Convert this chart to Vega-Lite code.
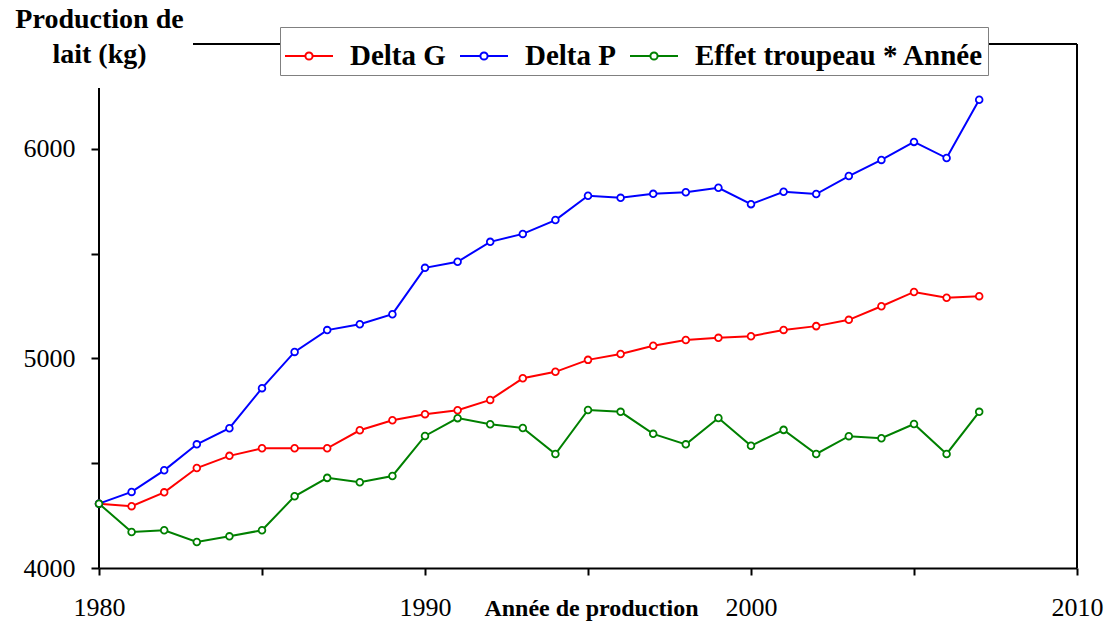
{
  "$schema": "https://vega.github.io/schema/vega-lite/v6.json",
  "width": 978,
  "height": 524,
  "autosize": {"type": "none"},
  "padding": {"left": 99, "top": 44, "right": 32, "bottom": 55},
  "background": "white",
  "config": {
    "font": "Liberation Serif",
    "view": {"stroke": null},
    "axis": {"grid": false, "labelColor": "black", "titleColor": "black", "tickColor": "black", "domainColor": "black"}
  },
  "data": {
    "values": [
      {"Annee": 1980, "Serie": "Delta G", "Valeur": 4307},
      {"Annee": 1981, "Serie": "Delta G", "Valeur": 4295},
      {"Annee": 1982, "Serie": "Delta G", "Valeur": 4361},
      {"Annee": 1983, "Serie": "Delta G", "Valeur": 4477},
      {"Annee": 1984, "Serie": "Delta G", "Valeur": 4535},
      {"Annee": 1985, "Serie": "Delta G", "Valeur": 4571},
      {"Annee": 1986, "Serie": "Delta G", "Valeur": 4571},
      {"Annee": 1987, "Serie": "Delta G", "Valeur": 4571},
      {"Annee": 1988, "Serie": "Delta G", "Valeur": 4657},
      {"Annee": 1989, "Serie": "Delta G", "Valeur": 4705},
      {"Annee": 1990, "Serie": "Delta G", "Valeur": 4734},
      {"Annee": 1991, "Serie": "Delta G", "Valeur": 4753},
      {"Annee": 1992, "Serie": "Delta G", "Valeur": 4802},
      {"Annee": 1993, "Serie": "Delta G", "Valeur": 4905},
      {"Annee": 1994, "Serie": "Delta G", "Valeur": 4936},
      {"Annee": 1995, "Serie": "Delta G", "Valeur": 4993},
      {"Annee": 1996, "Serie": "Delta G", "Valeur": 5021},
      {"Annee": 1997, "Serie": "Delta G", "Valeur": 5060},
      {"Annee": 1998, "Serie": "Delta G", "Valeur": 5088},
      {"Annee": 1999, "Serie": "Delta G", "Valeur": 5098},
      {"Annee": 2000, "Serie": "Delta G", "Valeur": 5106},
      {"Annee": 2001, "Serie": "Delta G", "Valeur": 5136},
      {"Annee": 2002, "Serie": "Delta G", "Valeur": 5154},
      {"Annee": 2003, "Serie": "Delta G", "Valeur": 5184},
      {"Annee": 2004, "Serie": "Delta G", "Valeur": 5249},
      {"Annee": 2005, "Serie": "Delta G", "Valeur": 5317},
      {"Annee": 2006, "Serie": "Delta G", "Valeur": 5289},
      {"Annee": 2007, "Serie": "Delta G", "Valeur": 5297},
      {"Annee": 1980, "Serie": "Delta P", "Valeur": 4307},
      {"Annee": 1981, "Serie": "Delta P", "Valeur": 4363},
      {"Annee": 1982, "Serie": "Delta P", "Valeur": 4466},
      {"Annee": 1983, "Serie": "Delta P", "Valeur": 4590},
      {"Annee": 1984, "Serie": "Delta P", "Valeur": 4667},
      {"Annee": 1985, "Serie": "Delta P", "Valeur": 4858},
      {"Annee": 1986, "Serie": "Delta P", "Valeur": 5031},
      {"Annee": 1987, "Serie": "Delta P", "Valeur": 5135},
      {"Annee": 1988, "Serie": "Delta P", "Valeur": 5163},
      {"Annee": 1989, "Serie": "Delta P", "Valeur": 5211},
      {"Annee": 1990, "Serie": "Delta P", "Valeur": 5432},
      {"Annee": 1991, "Serie": "Delta P", "Valeur": 5461},
      {"Annee": 1992, "Serie": "Delta P", "Valeur": 5556},
      {"Annee": 1993, "Serie": "Delta P", "Valeur": 5594},
      {"Annee": 1994, "Serie": "Delta P", "Valeur": 5660},
      {"Annee": 1995, "Serie": "Delta P", "Valeur": 5776},
      {"Annee": 1996, "Serie": "Delta P", "Valeur": 5766},
      {"Annee": 1997, "Serie": "Delta P", "Valeur": 5785},
      {"Annee": 1998, "Serie": "Delta P", "Valeur": 5793},
      {"Annee": 1999, "Serie": "Delta P", "Valeur": 5814},
      {"Annee": 2000, "Serie": "Delta P", "Valeur": 5736},
      {"Annee": 2001, "Serie": "Delta P", "Valeur": 5795},
      {"Annee": 2002, "Serie": "Delta P", "Valeur": 5784},
      {"Annee": 2003, "Serie": "Delta P", "Valeur": 5870},
      {"Annee": 2004, "Serie": "Delta P", "Valeur": 5947},
      {"Annee": 2005, "Serie": "Delta P", "Valeur": 6033},
      {"Annee": 2006, "Serie": "Delta P", "Valeur": 5956},
      {"Annee": 2007, "Serie": "Delta P", "Valeur": 6234},
      {"Annee": 1980, "Serie": "Effet troupeau * Année", "Valeur": 4307},
      {"Annee": 1981, "Serie": "Effet troupeau * Année", "Valeur": 4172},
      {"Annee": 1982, "Serie": "Effet troupeau * Année", "Valeur": 4180},
      {"Annee": 1983, "Serie": "Effet troupeau * Année", "Valeur": 4124},
      {"Annee": 1984, "Serie": "Effet troupeau * Année", "Valeur": 4151},
      {"Annee": 1985, "Serie": "Effet troupeau * Année", "Valeur": 4180},
      {"Annee": 1986, "Serie": "Effet troupeau * Année", "Valeur": 4342},
      {"Annee": 1987, "Serie": "Effet troupeau * Année", "Valeur": 4430},
      {"Annee": 1988, "Serie": "Effet troupeau * Année", "Valeur": 4409},
      {"Annee": 1989, "Serie": "Effet troupeau * Année", "Valeur": 4439},
      {"Annee": 1990, "Serie": "Effet troupeau * Année", "Valeur": 4630},
      {"Annee": 1991, "Serie": "Effet troupeau * Année", "Valeur": 4715},
      {"Annee": 1992, "Serie": "Effet troupeau * Année", "Valeur": 4686},
      {"Annee": 1993, "Serie": "Effet troupeau * Année", "Valeur": 4668},
      {"Annee": 1994, "Serie": "Effet troupeau * Année", "Valeur": 4544},
      {"Annee": 1995, "Serie": "Effet troupeau * Année", "Valeur": 4754},
      {"Annee": 1996, "Serie": "Effet troupeau * Année", "Valeur": 4745},
      {"Annee": 1997, "Serie": "Effet troupeau * Année", "Valeur": 4640},
      {"Annee": 1998, "Serie": "Effet troupeau * Année", "Valeur": 4590},
      {"Annee": 1999, "Serie": "Effet troupeau * Année", "Valeur": 4716},
      {"Annee": 2000, "Serie": "Effet troupeau * Année", "Valeur": 4583},
      {"Annee": 2001, "Serie": "Effet troupeau * Année", "Valeur": 4659},
      {"Annee": 2002, "Serie": "Effet troupeau * Année", "Valeur": 4544},
      {"Annee": 2003, "Serie": "Effet troupeau * Année", "Valeur": 4629},
      {"Annee": 2004, "Serie": "Effet troupeau * Année", "Valeur": 4619},
      {"Annee": 2005, "Serie": "Effet troupeau * Année", "Valeur": 4687},
      {"Annee": 2006, "Serie": "Effet troupeau * Année", "Valeur": 4544},
      {"Annee": 2007, "Serie": "Effet troupeau * Année", "Valeur": 4745}
    ]
  },
  "layer": [
    {
      "mark": {"type": "rule", "color": "black", "strokeWidth": 2},
      "encoding": {"x": {"datum": 1982.9, "type": "quantitative"}, "x2": {"datum": 2010}, "y": {"datum": 6500, "type": "quantitative"}}
    },
    {
      "mark": {"type": "rule", "color": "black", "strokeWidth": 2},
      "encoding": {"x": {"datum": 2010, "type": "quantitative"}, "y": {"datum": 4000, "type": "quantitative"}, "y2": {"datum": 6500}}
    },
    {
      "mark": {"type": "rule", "color": "black", "strokeWidth": 2},
      "encoding": {"x": {"datum": 1980, "type": "quantitative"}, "y": {"datum": 4000, "type": "quantitative"}, "y2": {"datum": 6290}}
    },
    {
      "mark": {"type": "line", "strokeWidth": 2},
      "encoding": {
        "x": {
          "field": "Annee", "type": "quantitative",
          "scale": {"domain": [1980, 2010], "nice": false, "zero": false},
          "axis": {
            "values": [1980, 1985, 1990, 1995, 2000, 2005, 2010],
            "format": "d",
            "labelExpr": "datum.value % 10 == 0 ? datum.label : ''",
            "labelFont": "Liberation Serif", "labelFontSize": 26,
            "labelPadding": 19, "labelBaseline": "top", "labelFlush": false, "labelOverlap": false,
            "tickSize": 7, "tickWidth": 2, "domainWidth": 2,
            "title": "Année de production",
            "titleFont": "Liberation Serif", "titleFontSize": 24, "titleFontWeight": "bold",
            "titleBaseline": "alphabetic", "titleY": 47, "titleX": 492, "titleAlign": "center"
          }
        },
        "y": {
          "field": "Valeur", "type": "quantitative",
          "scale": {"domain": [4000, 6500], "nice": false, "zero": false},
          "axis": {
            "values": [4000, 4500, 5000, 5500, 6000],
            "format": "d",
            "labelExpr": "datum.value % 1000 == 0 ? datum.label : ''",
            "labelFont": "Liberation Serif", "labelFontSize": 26,
            "labelPadding": 16, "labelFlush": false,
            "tickSize": 8, "tickWidth": 2, "domain": false,
            "title": ["Production de", "lait (kg)"],
            "titleFont": "Liberation Serif", "titleFontSize": 28, "titleFontWeight": "bold",
            "titleAngle": 0, "titleAlign": "center", "titleBaseline": "alphabetic",
            "titleX": 0, "titleY": -17, "titleLineHeight": 35
          }
        },
        "color": {
          "field": "Serie", "type": "nominal",
          "scale": {"domain": ["Delta G", "Delta P", "Effet troupeau * Année"], "range": ["#FF0000", "#0000FF", "#008000"]},
          "legend": {
            "orient": "none", "legendX": 181, "legendY": -17, "direction": "horizontal", "title": null,
            "fillColor": "white", "strokeColor": "#808080", "padding": 4,
            "symbolType": "M-1,0H-0.15M0.15,0H1M-0.15,0A0.15,0.15 0 1,0 0.15,0A0.15,0.15 0 1,0 -0.15,0",
            "symbolSize": 2304, "symbolStrokeWidth": 2, "symbolFillColor": "white",
            "labelFont": "Liberation Serif", "labelFontSize": 29, "labelFontWeight": "bold", "labelColor": "black",
            "labelOffset": 16, "columnPadding": 10, "labelLimit": 400
          }
        }
      }
    },
    {
      "mark": {"type": "point", "shape": "circle", "filled": false, "fill": "white", "fillOpacity": 1, "opacity": 1, "size": 45, "strokeWidth": 1.8},
      "encoding": {
        "x": {"field": "Annee", "type": "quantitative"},
        "y": {"field": "Valeur", "type": "quantitative"},
        "color": {"field": "Serie", "type": "nominal"}
      }
    }
  ]
}
